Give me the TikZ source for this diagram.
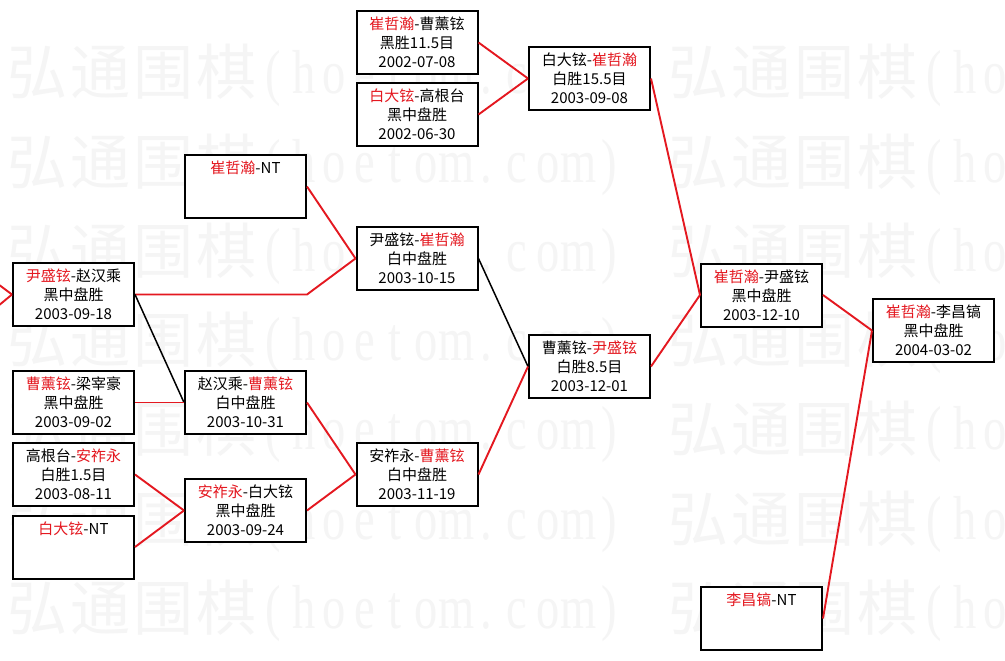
\documentclass[tikz,border=0pt]{standalone}
\usepackage{fontspec}
\setmainfont{Noto Sans CJK SC}
\newfontfamily\wmlatin[FakeStretch=0.75]{Liberation Serif}
\newfontfamily\wmcjk{Noto Sans CJK SC}
\definecolor{winred}{RGB}{228,24,32}
\definecolor{wmgray}{RGB}{245,245,245}
\newcommand{\rn}[1]{\textcolor{winred}{#1}}
\tikzset{
  mbox/.style={draw=black, line width=2pt, fill=white, minimum width=121pt, minimum height=63pt,
    inner sep=0pt, align=center, font=\fontsize{15}{19}\selectfont},
  win/.style={draw=winred, line width=1.9pt},
  lose/.style={draw=black, line width=1.5pt},
  wmc/.style={text=wmgray, inner sep=0pt, anchor=base, font=\wmcjk\fontsize{60}{60}\selectfont},
  wml/.style={text=wmgray, inner sep=0pt, anchor=base, font=\wmlatin\fontsize{62}{62}\selectfont}
}
\begin{document}
\begin{tikzpicture}[x=1pt,y=-1pt]
\fill[white] (0,0) rectangle (1005,661);
\useasboundingbox (0,0) rectangle (1005,661);
% watermark
\foreach \r in {0,...,6}{
  \foreach \c in {0,1}{
    \foreach \ch/\cx [count=\i] in {弘/31.5,通/94.5,围/157.5,棋/220.5}{
      \node[wmc] (wmc\r-\c-\i) at (6+\cx+661*\c, 95+89.2*\r) {\ch};
    }
    \foreach \ch/\cx [count=\i] in {\char40/267.25,h/297.75,o/328.25,e/358.75,t/389.25,o/419.75,m/450.25,./480.75,c/511.25,o/541.75,m/572.25,\char41/602.75}{
      \node[wml] (wml\r-\c-\i) at (6+\cx+661*\c, 93+89.2*\r) {\ch};
    }
  }
}
% boxes
\node[mbox] (a) at (417,42.5) {\rn{崔哲瀚}-曹薰铉\\黑胜11.5目\\2002-07-08};
\node[mbox] (b) at (417,114.5) {\rn{白大铉}-高根台\\黑中盘胜\\2002-06-30};
\node[mbox] (c) at (589.5,78.5) {白大铉-\rn{崔哲瀚}\\白胜15.5目\\2003-09-08};
\node[mbox] (d) at (245.5,186.5) {\rn{崔哲瀚}-NT\\~\\~};
\node[mbox] (e) at (73.5,294.5) {\rn{尹盛铉}-赵汉乘\\黑中盘胜\\2003-09-18};
\node[mbox] (f) at (417,258.5) {尹盛铉-\rn{崔哲瀚}\\白中盘胜\\2003-10-15};
\node[mbox] (g) at (589.5,366.5) {曹薰铉-\rn{尹盛铉}\\白胜8.5目\\2003-12-01};
\node[mbox] (h) at (73.5,402.5) {\rn{曹薰铉}-梁宰豪\\黑中盘胜\\2003-09-02};
\node[mbox] (i) at (245.5,402.5) {赵汉乘-\rn{曹薰铉}\\白中盘胜\\2003-10-31};
\node[mbox] (j) at (73.5,474.5) {高根台-\rn{安祚永}\\白胜1.5目\\2003-08-11};
\node[mbox] (k) at (73.5,547) {\rn{白大铉}-NT\\~\\~};
\node[mbox] (l) at (245.5,510.5) {\rn{安祚永}-白大铉\\黑中盘胜\\2003-09-24};
\node[mbox] (m) at (417,474.5) {安祚永-\rn{曹薰铉}\\白中盘胜\\2003-11-19};
\node[mbox] (n) at (761.5,295) {\rn{崔哲瀚}-尹盛铉\\黑中盘胜\\2003-12-10};
\node[mbox] (o) at (933.5,330.5) {\rn{崔哲瀚}-李昌镐\\黑中盘胜\\2004-03-02};
\node[mbox] (p) at (761.5,618.5) {\rn{李昌镐}-NT\\~\\~};
% connectors
\coordinate (offA) at (-37,258);
\coordinate (offB) at (-37,335);
\draw[win] (offA) -- (e.west);
\draw[win] (offB) -- (e.west);
\draw[win] (a.east) -- (c.west);
\draw[win] (b.east) -- (c.west);
\draw[win] (d.east) -- (f.west);
\draw[win] (e.east) -- (e.east -| d.east) -- (f.west);
\draw[lose] (e.east) -- (i.west);
\draw[win] (h.east) -- (i.west);
\draw[win] (j.east) -- (l.west);
\draw[win] (k.east) -- (l.west);
\draw[win] (i.east) -- (m.west);
\draw[win] (l.east) -- (m.west);
\draw[lose] (f.east) -- (g.west);
\draw[win] (m.east) -- (g.west);
\draw[win] (c.east) -- (n.west);
\draw[win] (g.east) -- (n.west);
\draw[win] (n.east) -- (o.west);
\draw[win] (p.east) -- (o.west);
\end{tikzpicture}
\end{document}
